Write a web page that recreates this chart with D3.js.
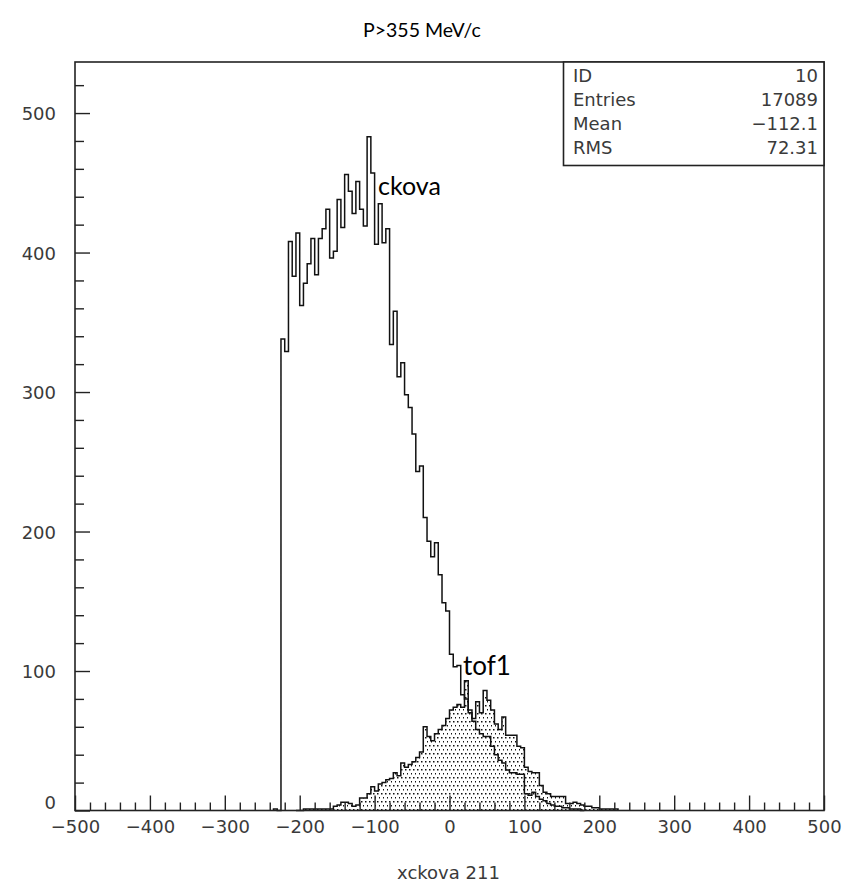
<!DOCTYPE html>
<html>
<head>
<meta charset="utf-8">
<script src="https://cdn.jsdelivr.net/npm/d3@7"></script>
<style>
  html, body { margin: 0; padding: 0; background: #fff; }
  svg { display: block; }
</style>
</head>
<body>
<svg id="chart" width="854" height="883"></svg>
<script>
// Histogram binning: 5-unit bins, values listed from the first bin's left edge
const binWidth = 5;

// ckova histogram (outline only), first bin starts at -235
const ckovaStart = -235;
const ckovaCounts = [
  1, 0, 338, 329, 408, 383, 414, 362, 378, 392,
  410, 384, 410, 417, 431, 396, 401, 438, 418, 456,
  444, 428, 451, 431, 419, 483, 457, 406, 435, 407,
  417, 334, 358, 311, 321, 298, 289, 270, 243, 247,
  210, 193, 182, 192, 169, 149, 143, 112, 103, 104,
  83, 80, 72, 64, 58, 55, 53, 53, 46, 40,
  36, 34, 29, 27, 27, 26, 26, 12, 11, 13,
  10, 8, 7, 5, 4, 3, 3, 2, 2, 1,
  1, 1, 0
];

// tof1 histogram (dotted fill), first bin starts at -205
const tof1Start = -205;
const tof1Counts = [
  0, 0, 1, 1, 1, 1, 1, 1, 1, 1,
  3, 4, 6, 6, 5, 3, 4, 9, 9, 12,
  17, 14, 19, 20, 22, 23, 27, 25, 34, 31,
  33, 35, 38, 42, 60, 53, 50, 55, 58, 61,
  66, 72, 74, 76, 74, 93, 70, 66, 78, 70,
  86, 79, 72, 62, 58, 67, 54, 54, 54, 46,
  45, 31, 28, 27, 27, 18, 13, 12, 10, 10,
  10, 10, 5, 5, 6, 5, 4, 3, 3, 2,
  2, 1, 1, 1, 1, 1
];

// Axis ticks
const xMajorTicks = [-500, -400, -300, -200, -100, 0, 100, 200, 300, 400, 500];
const yMajorTicks = [0, 100, 200, 300, 400, 500];

// Statistics box rows
const statLabels = ["ID", "Entries", "Mean", "RMS"];
const statValues = ["10", "17089", "\u2212112.1", "72.31"];

const titleText = "P>355 MeV/c";
const xTitle = "xckova 211";

const svg = d3.select("#chart");
const plotL = 75, plotR = 824, plotT = 62, plotB = 810.5;
const axisFont = "DejaVu Sans";
const inkColor = "#3a3a3a";

const x = d3.scaleLinear().domain([-500, 500]).range([plotL, plotR]);
const y = d3.scaleLinear().domain([0, 536.6]).range([plotB, plotT]);

// Build step outline points for a histogram
function stepPoints(start, counts) {
  const pts = [[start, 0]];
  counts.forEach((c, i) => {
    const x0 = start + i * binWidth;
    pts.push([x0, c], [x0 + binWidth, c]);
  });
  pts.push([start + counts.length * binWidth, 0]);
  return pts;
}

const line = d3.line().x(d => x(d[0])).y(d => y(d[1]));

// Staggered dot pattern for the shaded histogram
const defs = svg.append("defs");
const pat = defs.append("pattern")
  .attr("id", "dots").attr("patternUnits", "userSpaceOnUse")
  .attr("width", 4).attr("height", 8);
pat.append("rect").attr("x", 1).attr("y", 1).attr("width", 1.5).attr("height", 1.5).attr("fill", "#111");
pat.append("rect").attr("x", 3).attr("y", 5).attr("width", 1.5).attr("height", 1.5).attr("fill", "#111");

const tofPts = stepPoints(tof1Start, tof1Counts);
svg.append("path").attr("d", line(tofPts) + "Z")
  .attr("fill", "url(#dots)").attr("stroke", "none");
svg.append("path").attr("d", line(tofPts))
  .attr("fill", "none").attr("stroke", "#111").attr("stroke-width", 1.5);

const ckPts = stepPoints(ckovaStart, ckovaCounts);
svg.append("path").attr("d", line(ckPts))
  .attr("fill", "none").attr("stroke", "#111").attr("stroke-width", 1.5);

// Frame
svg.append("rect").attr("x", plotL).attr("y", plotT)
  .attr("width", plotR - plotL).attr("height", plotB - plotT)
  .attr("fill", "none").attr("stroke", "#222").attr("stroke-width", 1.6);

// X axis ticks (pointing up inside the frame)
const xAxis = d3.axisBottom(x).tickValues(d3.range(-500, 501, 20))
  .tickSize(0).tickFormat("");
const gx = svg.append("g").attr("transform", `translate(0,${plotB})`).call(xAxis);
gx.select(".domain").remove();
gx.selectAll(".tick line")
  .attr("y2", d => (d % 100 === 0 ? -15 : -8))
  .attr("stroke", "#222").attr("stroke-width", 1.4);
gx.selectAll(".tick").filter(d => xMajorTicks.includes(d))
  .append("text")
  .attr("y", 22).attr("dy", 0)
  .attr("fill", inkColor).attr("font-family", axisFont).attr("font-size", 18)
  .attr("text-anchor", "middle")
  .text(d => (d < 0 ? "\u2212" + Math.abs(d) : String(d)));

// Y axis ticks (pointing right inside the frame)
const yAxis = d3.axisLeft(y).tickValues(d3.range(0, 521, 20)).tickSize(0).tickFormat("");
const gy = svg.append("g").attr("transform", `translate(${plotL},0)`).call(yAxis);
gy.select(".domain").remove();
gy.selectAll(".tick line")
  .attr("x2", d => (d % 100 === 0 ? 15 : 9))
  .attr("stroke", "#222").attr("stroke-width", 1.4);
gy.selectAll(".tick").filter(d => yMajorTicks.includes(d))
  .append("text")
  .attr("x", -19).attr("y", d => (d === 0 ? -2 : 6.5))
  .attr("fill", inkColor).attr("font-family", axisFont).attr("font-size", 18)
  .attr("text-anchor", "end")
  .text(d => String(d));

// Statistics box
const box = svg.append("g");
box.append("rect").attr("x", 563.5).attr("y", plotT).attr("width", plotR - 563.5).attr("height", 103.5)
  .attr("fill", "#fff").attr("stroke", "#222").attr("stroke-width", 1.6);
statLabels.forEach((lab, i) => {
  const by = 81.5 + i * 24;
  box.append("text").attr("x", 573).attr("y", by)
    .attr("fill", inkColor).attr("font-family", axisFont).attr("font-size", 18)
    .text(lab);
  box.append("text").attr("x", 818).attr("y", by).attr("text-anchor", "end")
    .attr("fill", inkColor).attr("font-family", axisFont).attr("font-size", 18)
    .text(statValues[i]);
});

// Titles and annotations
svg.append("text").attr("x", 363).attr("y", 37)
  .attr("font-family", "Lato, 'Open Sans', sans-serif").attr("font-size", 19.5).attr("fill", "#000")
  .text(titleText);
svg.append("text").attr("x", 378).attr("y", 195)
  .attr("font-family", "Lato, 'Open Sans', sans-serif").attr("font-size", 25).attr("fill", "#000")
  .text("ckova");
svg.append("text").attr("x", 463).attr("y", 675)
  .attr("font-family", "Lato, 'Open Sans', sans-serif").attr("font-size", 26).attr("fill", "#000")
  .text("tof1");
svg.append("text").attr("x", 448.5).attr("y", 879).attr("text-anchor", "middle")
  .attr("fill", inkColor).attr("font-family", axisFont).attr("font-size", 18)
  .text(xTitle);
</script>
</body>
</html>
